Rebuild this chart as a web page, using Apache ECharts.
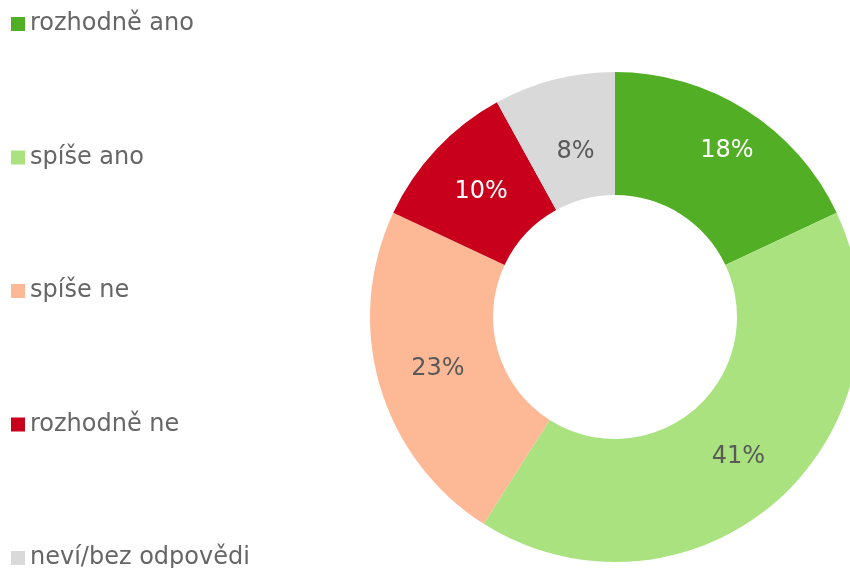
<!DOCTYPE html>
<html>
<head>
<meta charset="utf-8">
<script src="https://cdn.jsdelivr.net/npm/echarts@6/dist/echarts.min.js"></script>
<style>
  html, body { margin: 0; padding: 0; background: #fff; }
  #chart { width: 850px; height: 568px; }
</style>
</head>
<body>
<div id="chart"></div>
<script>
// odpovědi a podíly (%)
const categories = ['rozhodně ano', 'spíše ano', 'spíše ne', 'rozhodně ne', 'neví/bez odpovědi'];
const shares = [18, 41, 23, 10, 8];

// vzhled
const colors = ['#52ae24', '#a9e27f', '#fdb996', '#c8001b', '#d9d9d9'];
const labelColors = ['#ffffff', '#595959', '#595959', '#ffffff', '#595959'];
const labelShift = [[12, -9], [0, 0], [2, 0], [2, 2], [7, 15]];

const font = 'Verdana, "DejaVu Sans", sans-serif';

const chart = echarts.init(document.getElementById('chart'));

chart.setOption({
  animation: false,
  color: colors,
  legend: {
    orient: 'vertical',
    left: 6,
    top: 7,
    height: 568,
    itemWidth: 14,
    itemHeight: 14,
    itemGap: 109.5,
    itemTextGap: 4,
    icon: 'rect',
    data: categories,
    textStyle: {
      fontFamily: font,
      fontSize: 24,
      color: '#666666',
      lineHeight: 24
    }
  },
  series: [
    {
      type: 'pie',
      center: [615, 317],
      radius: [122, 245],
      startAngle: 90,
      clockwise: true,
      label: {
        show: true,
        position: 'inside',
        fontFamily: font,
        fontSize: 24,
        formatter: p => p.value + '%'
      },
      labelLine: { show: false },
      emphasis: { disabled: true },
      data: categories.map((name, i) => ({
        name,
        value: shares[i],
        label: { color: labelColors[i], offset: labelShift[i] }
      }))
    }
  ]
});
</script>
</body>
</html>
